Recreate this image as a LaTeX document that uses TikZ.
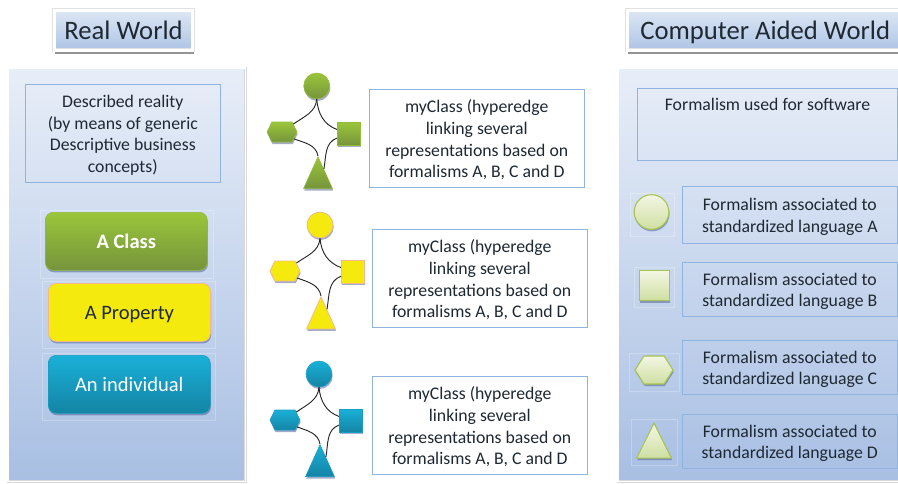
\documentclass[tikz,border=0pt]{standalone}
\usepackage{fontspec}
\setmainfont{Carlito}
\usetikzlibrary{shapes.geometric,shapes.symbols,shadows}
\definecolor{inkc}{HTML}{1F2933}
\definecolor{linec}{HTML}{8FB4E0}
\definecolor{panelt}{HTML}{E8EEF8}
\definecolor{panelb}{HTML}{A8BFE3}
\definecolor{titlet}{HTML}{DDE7F5}
\definecolor{titleb}{HTML}{AEC4E5}
\definecolor{greent}{HTML}{9AC63A}
\definecolor{greenb}{HTML}{76943C}
\definecolor{yellowf}{HTML}{F5EA0E}
\definecolor{yellowl}{HTML}{F2B98A}
\definecolor{bluet}{HTML}{1AB0D8}
\definecolor{blueb}{HTML}{1484A4}
\definecolor{palet}{HTML}{F3F6E4}
\definecolor{paleb}{HTML}{CFDFA2}
\definecolor{palel}{HTML}{A4C44E}
\definecolor{shadowc}{HTML}{4A5A90}
\newcommand{\topgap}{\rule{0pt}{12pt}}
\tikzset{
  txt/.style={text=inkc,font=\fontsize{13.3}{16.2}\selectfont,align=center,inner sep=0pt},
  panelbox/.style={anchor=north west,rectangle,inner sep=0pt,top color=panelt,bottom color=panelb,
    draw=black!15,double=white,double distance=1.2pt,line width=.3pt},
  titlebox/.style={anchor=north west,rectangle,inner sep=0pt,top color=titlet,bottom color=titleb,
    draw=black!12,double=white,double distance=2.4pt,line width=.3pt,text=inkc,font=\fontsize{20}{24}\selectfont,
    text height=15pt,text depth=1.5pt,
    drop shadow={shadow xshift=.8pt,shadow yshift=-2.6pt,fill=black!70,opacity=.6}},
  textbox/.style={txt,anchor=north west,rectangle,draw=linec,line width=.7pt},
  whitebox/.style={textbox,fill=white},
  softshadow/.style={drop shadow={shadow xshift=.5pt,shadow yshift=-1.5pt,fill=shadowc,opacity=.5}},
  greenf/.style={top color=greent,bottom color=greenb,draw=greent!80!greenb,line width=.4pt,softshadow},
  yellowfill/.style={fill=yellowf,draw=yellowl,line width=.6pt,softshadow},
  bluef/.style={top color=bluet,bottom color=blueb,draw=bluet!60!blueb,line width=.4pt,softshadow},
  palef/.style={top color=palet,bottom color=paleb,draw=palel,line width=.8pt,softshadow},
  btn/.style={anchor=north west,rounded corners=6pt,inner sep=0pt,minimum width=121.5pt,minimum height=43.5pt,
    font=\fontsize{15.4}{18}\selectfont,text height=11.6pt,text depth=1pt},
  ghost/.style={anchor=north west,rectangle,inner sep=0pt,draw=white,opacity=.25,line width=.5pt},
  circ/.style={circle,inner sep=0pt,minimum size=19.5pt},
  sq/.style={rectangle,anchor=north west,inner sep=0pt,minimum size=17.25pt},
  hexa/.style={signal,signal to=east and west,signal pointer angle=128,inner sep=0pt,anchor=center,minimum width=22.5pt,minimum height=15pt},
  tri/.style={isosceles triangle,isosceles triangle apex angle=48,shape border rotate=90,isosceles triangle stretches,
    inner sep=0pt,anchor=apex,minimum height=24pt,minimum width=21.75pt},
  hyper/.style={line width=.7pt,black!85}
}
\begin{document}
\begin{tikzpicture}[x=.75pt,y=-.75pt]
    \useasboundingbox (0,0) rectangle (898,483);

    %%panels
    \node[panelbox,minimum width=178pt,minimum height=310pt] (leftpanel) at (8,68){};
    \node[panelbox,minimum width=225pt,minimum height=310pt] (rightpanel) at (618,68){};

    %%titles
    \node[titlebox,minimum width=104pt,minimum height=30pt] (realworld) at (54,10){Real World};
    \node[titlebox,minimum width=222pt,minimum height=30pt] (aidedworld) at (627,10){\hspace*{-15pt}Computer Aided World};

    %%left column
    \node[textbox,minimum width=146pt,minimum height=73.5pt] (reality) at (25,84){\topgap Described reality\\(by means of generic\\Descriptive business\\concepts)};
    \node[ghost,minimum width=129.75pt,minimum height=51pt] (ghostclass) at (40,210){};
    \node[ghost,minimum width=129.75pt,minimum height=50.25pt] (ghostproperty) at (42,281){};
    \node[ghost,minimum width=129.75pt,minimum height=50.25pt] (ghostindividual) at (42,353){};
    \node[btn,greenf,text=white] (aclass) at (45,212){\textbf{A Class}};
    \node[btn,yellowfill,text=inkc] (aproperty) at (48,283){A Property};
    \node[btn,bluef,text=white] (anindividual) at (48,355){An individual};

    %%green hyperedge
    \node[circ,greenf] (circa) at (316.7,86){};
    \node[sq,greenf] (sqa) at (337,122){};
    \node[hexa,greenf] (hexa) at (282,132){};
    \node[tri,greenf] (tria) at (318,156){};
    \draw[hyper](circa.south) to[out=265,in=35] (hexa.35);
    \draw[hyper](circa.south) to[out=275,in=160] (sqa.160);
    \draw[hyper](hexa.-30) to[out=-20,in=100] (tria.apex);
    \draw[hyper](sqa.200) to[out=200,in=80] (tria.60);
    \node[whitebox,minimum width=161pt,minimum height=73.5pt] (texta) at (369,89){\topgap myClass (hyperedge\\linking several\\representations based on\\formalisms A, B, C and D};

    %%yellow hyperedge
    \node[circ,yellowfill] (circb) at (320,225){};
    \node[sq,yellowfill] (sqb) at (341,260){};
    \node[hexa,yellowfill] (hexb) at (285,271){};
    \node[tri,yellowfill] (trib) at (321,296){};
    \draw[hyper](circb.south) to[out=265,in=35] (hexb.35);
    \draw[hyper](circb.south) to[out=275,in=160] (sqb.160);
    \draw[hyper](hexb.-30) to[out=-20,in=100] (trib.apex);
    \draw[hyper](sqb.200) to[out=200,in=80] (trib.60);
    \node[whitebox,minimum width=161pt,minimum height=73.5pt] (textb) at (372,229){\topgap myClass (hyperedge\\linking several\\representations based on\\formalisms A, B, C and D};

    %%blue hyperedge
    \node[circ,bluef] (circc) at (319,374){};
    \node[sq,bluef] (sqc) at (339,409){};
    \node[hexa,bluef] (hexc) at (285,420){};
    \node[tri,bluef] (tric) at (320,444){};
    \draw[hyper](circc.south) to[out=265,in=35] (hexc.35);
    \draw[hyper](circc.south) to[out=275,in=160] (sqc.160);
    \draw[hyper](hexc.-30) to[out=-20,in=100] (tric.apex);
    \draw[hyper](sqc.200) to[out=200,in=80] (tric.60);
    \node[whitebox,minimum width=161pt,minimum height=73.5pt] (textc) at (372,376){\topgap myClass (hyperedge\\linking several\\representations based on\\formalisms A, B, C and D};

    %%right column
    \node[textbox,minimum width=195pt,minimum height=54pt] (software) at (637,88){\topgap Formalism used for software\\~\\~};
    \node[textbox,minimum width=161pt,minimum height=42.75pt] (langa) at (682,186){\topgap Formalism associated to\\standardized language A};
    \node[textbox,minimum width=161pt,minimum height=40.5pt] (langb) at (682,262){\topgap Formalism associated to\\standardized language B};
    \node[textbox,minimum width=161pt,minimum height=40.5pt] (langc) at (682,340){\topgap Formalism associated to\\standardized language C};
    \node[textbox,minimum width=161pt,minimum height=40.5pt] (langd) at (682,414){\topgap Formalism associated to\\standardized language D};

    \node[ghost,minimum width=33pt,minimum height=32pt] (ghosta) at (630,193){};
    \node[ghost,minimum width=30pt,minimum height=30pt] (ghostb) at (634,267){};
    \node[ghost,minimum width=37.5pt,minimum height=28.5pt] (ghostc) at (629,353){};
    \node[ghost,minimum width=34.5pt,minimum height=34.5pt] (ghostd) at (631,419){};
    \node[circle,inner sep=0pt,minimum size=26pt,palef] (forma) at (651.5,212){};
    \node[sq,palef,minimum size=22.5pt] (formb) at (639,270){};
    \node[hexa,palef,signal pointer angle=115,minimum width=28.5pt,minimum height=21pt] (formc) at (654,370){};
    \node[tri,palef,isosceles triangle apex angle=53,minimum height=26.25pt,minimum width=26.25pt] (formd) at (654,422){};
\end{tikzpicture}
\end{document}
